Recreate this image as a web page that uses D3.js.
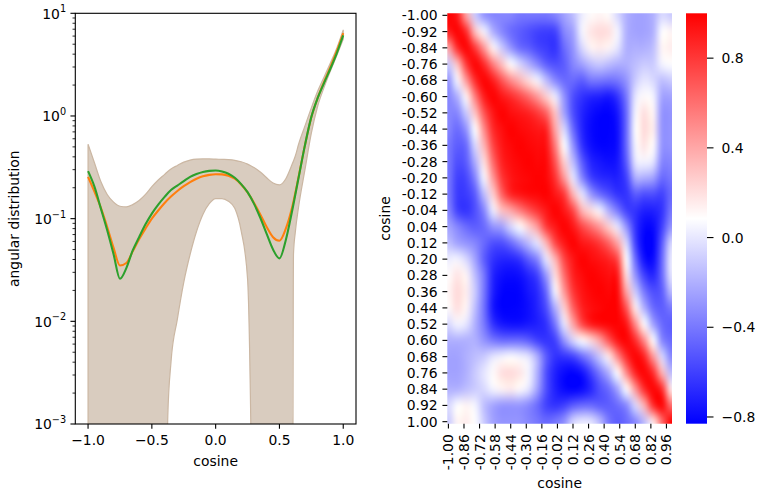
<!DOCTYPE html>
<html>
<head>
<meta charset="utf-8">
<script src="https://cdn.jsdelivr.net/npm/d3@7"></script>
<style>
  html, body { margin: 0; padding: 0; background: #fff; }
  svg { display: block; font-family: "DejaVu Sans", sans-serif; }
</style>
</head>
<body>
<svg id="fig" width="760" height="492"></svg>
<script>
// ---------- angular distribution (left panel) ----------
const cosine = [-1.00, -0.95, -0.90, -0.85, -0.80, -0.75, -0.70, -0.65, -0.60, -0.55,
                -0.50, -0.45, -0.40, -0.35, -0.30, -0.25, -0.20, -0.15, -0.10, -0.05,
                 0.00,  0.05,  0.10,  0.15,  0.20,  0.25,  0.30,  0.35,  0.40,  0.45,
                 0.50,  0.55,  0.60,  0.65,  0.70,  0.75,  0.80,  0.85,  0.90,  0.95, 1.00];

// orange fit
const fitOrange = [0.255, 0.183, 0.128, 0.083, 0.052, 0.035, 0.037, 0.048, 0.063, 0.080,
                   0.100, 0.120, 0.142, 0.164, 0.186, 0.207, 0.227, 0.245, 0.259, 0.267,
                   0.271, 0.270, 0.262, 0.245, 0.215, 0.180, 0.143, 0.110, 0.083, 0.066,
                   0.061, 0.080, 0.130, 0.255, 0.520, 0.970, 1.50, 2.15, 3.00, 4.30, 6.40];

// green fit
const fitGreen = [0.290, 0.205, 0.126, 0.077, 0.045, 0.026, 0.033, 0.049, 0.066, 0.088,
                  0.112, 0.137, 0.163, 0.190, 0.210, 0.232, 0.255, 0.272, 0.285, 0.292,
                  0.294, 0.288, 0.274, 0.250, 0.217, 0.181, 0.140, 0.102, 0.071, 0.050,
                  0.041, 0.062, 0.120, 0.250, 0.520, 0.980, 1.50, 2.10, 2.90, 4.10, 6.10];

// uncertainty band; a lower bound of 0 is non-positive and falls below the log axis
const bandCosine = [-1.00, -0.95, -0.90, -0.85, -0.80, -0.75, -0.70, -0.65, -0.60, -0.55,
                    -0.50, -0.45, -0.40, -0.375, -0.35, -0.30, -0.25, -0.20, -0.15, -0.10,
                    -0.05, 0.00, 0.05, 0.10, 0.15, 0.20, 0.25, 0.275, 0.30, 0.35,
                     0.40, 0.45, 0.50, 0.55, 0.60, 0.61, 0.625, 0.65, 0.70, 0.75,
                     0.80, 0.85, 0.90, 0.95, 1.00];
const bandUpper = [0.53, 0.35, 0.23, 0.172, 0.145, 0.132, 0.130, 0.137, 0.150, 0.172,
                   0.205, 0.238, 0.270, 0.288, 0.305, 0.330, 0.355, 0.372, 0.380, 0.382,
                   0.382, 0.380, 0.378, 0.376, 0.370, 0.358, 0.340, 0.328, 0.315, 0.285,
                   0.250, 0.222, 0.213, 0.245, 0.340, 0.365, 0.410, 0.530, 0.800, 1.20,
                   1.75, 2.40, 3.30, 4.60, 6.90];
const bandLower = [0, 0, 0, 0, 0, 0, 0, 0, 0, 0,
                   0, 0, 0, 0.0012, 0.004, 0.0105, 0.024, 0.045, 0.075, 0.110,
                   0.140, 0.157, 0.157, 0.148, 0.126, 0.076, 0.026, 0.0011, 0, 0,
                   0, 0, 0, 0, 0, 0.045, 0.075, 0.130, 0.300, 0.680,
                   1.25, 1.90, 2.75, 3.90, 5.60];

const xTicks = [-1.0, -0.5, 0.0, 0.5, 1.0];
const xTickLabels = ["\u22121.0", "\u22120.5", "0.0", "0.5", "1.0"];
const yTicks = [1e-3, 1e-2, 1e-1, 1e0, 1e1];
const yTickExponents = ["\u22123", "\u22122", "\u22121", "0", "1"];

// ---------- correlation matrix (right panel) ----------
const gridCosine = [-1.00, -0.92, -0.84, -0.76, -0.68, -0.60, -0.52, -0.44, -0.36, -0.28,
                    -0.20, -0.12, -0.04, 0.04, 0.12, 0.20, 0.28, 0.36, 0.44, 0.52,
                     0.60, 0.68, 0.76, 0.84, 0.92, 1.00];
const corr = [
  [1.00, 0.90, 0.40, -0.10, -0.30, -0.35, -0.35, -0.35, -0.40, -0.40, -0.40, -0.40, -0.35, -0.25, -0.15, 0.02, 0.10, 0.12, 0.10, -0.05, -0.20, -0.25, -0.25, -0.20, -0.05, -0.10],
  [0.90, 1.00, 0.85, 0.30, 0.05, -0.20, -0.35, -0.45, -0.50, -0.55, -0.60, -0.62, -0.60, -0.35, -0.25, 0.05, 0.18, 0.22, 0.20, 0.05, -0.20, -0.25, -0.25, -0.20, 0.08, 0.12],
  [0.40, 0.85, 1.00, 0.80, 0.45, 0.12, -0.10, -0.30, -0.45, -0.50, -0.58, -0.62, -0.65, -0.45, -0.30, -0.05, 0.12, 0.15, 0.12, 0.00, -0.20, -0.20, -0.20, -0.15, 0.12, 0.15],
  [-0.10, 0.30, 0.80, 1.00, 0.85, 0.55, 0.30, 0.08, -0.05, -0.20, -0.35, -0.50, -0.55, -0.50, -0.35, -0.25, -0.15, -0.10, -0.15, -0.20, -0.20, -0.15, -0.10, -0.10, 0.05, 0.08],
  [-0.30, 0.05, 0.45, 0.85, 1.00, 0.90, 0.70, 0.50, 0.35, 0.20, 0.05, -0.15, -0.35, -0.45, -0.45, -0.50, -0.40, -0.40, -0.42, -0.40, -0.30, -0.10, 0.00, -0.05, -0.15, -0.10],
  [-0.35, -0.20, 0.12, 0.55, 0.90, 1.00, 0.92, 0.85, 0.75, 0.62, 0.45, 0.25, 0.02, -0.30, -0.55, -0.65, -0.70, -0.72, -0.75, -0.65, -0.40, 0.00, 0.10, 0.05, -0.25, -0.25],
  [-0.35, -0.35, -0.10, 0.30, 0.70, 0.92, 1.00, 0.95, 0.92, 0.88, 0.80, 0.65, 0.30, -0.25, -0.55, -0.70, -0.78, -0.82, -0.83, -0.75, -0.45, 0.05, 0.20, 0.12, -0.30, -0.30],
  [-0.35, -0.45, -0.30, 0.08, 0.50, 0.85, 0.95, 1.00, 0.97, 0.95, 0.92, 0.88, 0.40, -0.05, -0.45, -0.70, -0.80, -0.83, -0.83, -0.78, -0.45, 0.08, 0.22, 0.15, -0.30, -0.30],
  [-0.40, -0.50, -0.45, -0.05, 0.35, 0.75, 0.92, 0.97, 1.00, 0.98, 0.96, 0.94, 0.55, 0.08, -0.30, -0.65, -0.78, -0.82, -0.82, -0.78, -0.45, 0.05, 0.18, 0.10, -0.30, -0.30],
  [-0.40, -0.55, -0.50, -0.20, 0.20, 0.62, 0.88, 0.95, 0.98, 1.00, 0.98, 0.97, 0.70, 0.25, -0.15, -0.50, -0.70, -0.75, -0.78, -0.75, -0.50, 0.00, 0.05, 0.00, -0.35, -0.35],
  [-0.40, -0.60, -0.58, -0.35, 0.05, 0.45, 0.80, 0.92, 0.96, 0.98, 1.00, 0.98, 0.82, 0.45, 0.00, -0.35, -0.60, -0.68, -0.70, -0.72, -0.60, -0.20, -0.20, -0.25, -0.45, -0.40],
  [-0.40, -0.62, -0.62, -0.50, -0.15, 0.25, 0.65, 0.88, 0.94, 0.97, 0.98, 1.00, 0.92, 0.80, 0.35, 0.00, -0.28, -0.45, -0.55, -0.65, -0.65, -0.50, -0.55, -0.55, -0.60, -0.45],
  [-0.35, -0.60, -0.65, -0.55, -0.35, 0.02, 0.30, 0.40, 0.55, 0.70, 0.82, 0.92, 1.00, 0.92, 0.75, 0.35, 0.20, 0.05, -0.20, -0.40, -0.60, -0.65, -0.72, -0.72, -0.65, -0.40],
  [-0.25, -0.35, -0.45, -0.50, -0.45, -0.30, -0.25, -0.05, 0.08, 0.25, 0.45, 0.80, 0.92, 1.00, 0.92, 0.75, 0.60, 0.45, 0.25, 0.00, -0.30, -0.65, -0.80, -0.80, -0.60, -0.30],
  [-0.15, -0.25, -0.30, -0.35, -0.45, -0.55, -0.55, -0.45, -0.30, -0.15, 0.00, 0.35, 0.75, 0.92, 1.00, 0.92, 0.88, 0.80, 0.65, 0.40, -0.05, -0.60, -0.83, -0.83, -0.50, -0.05],
  [0.02, 0.05, -0.05, -0.25, -0.50, -0.65, -0.70, -0.70, -0.65, -0.50, -0.35, 0.00, 0.35, 0.75, 0.92, 1.00, 0.96, 0.93, 0.88, 0.75, 0.08, -0.45, -0.78, -0.80, -0.45, 0.02],
  [0.10, 0.18, 0.12, -0.15, -0.40, -0.70, -0.78, -0.80, -0.78, -0.70, -0.60, -0.28, 0.20, 0.60, 0.88, 0.96, 1.00, 0.98, 0.95, 0.92, 0.20, -0.30, -0.60, -0.70, -0.45, 0.00],
  [0.12, 0.22, 0.15, -0.10, -0.40, -0.72, -0.82, -0.83, -0.82, -0.75, -0.68, -0.45, 0.05, 0.45, 0.80, 0.93, 0.98, 1.00, 0.98, 0.97, 0.40, -0.10, -0.40, -0.55, -0.50, -0.15],
  [0.10, 0.20, 0.12, -0.15, -0.42, -0.75, -0.83, -0.83, -0.82, -0.78, -0.70, -0.55, -0.20, 0.25, 0.65, 0.88, 0.95, 0.98, 1.00, 0.99, 0.70, 0.15, -0.20, -0.45, -0.50, -0.40],
  [-0.05, 0.05, 0.00, -0.20, -0.40, -0.65, -0.75, -0.78, -0.78, -0.75, -0.72, -0.65, -0.40, 0.00, 0.40, 0.75, 0.92, 0.97, 0.99, 1.00, 0.93, 0.50, 0.08, -0.25, -0.45, -0.50],
  [-0.20, -0.20, -0.20, -0.20, -0.30, -0.40, -0.45, -0.45, -0.45, -0.50, -0.60, -0.65, -0.60, -0.30, -0.05, 0.08, 0.20, 0.40, 0.70, 0.93, 1.00, 0.85, 0.50, 0.08, -0.35, -0.45],
  [-0.25, -0.25, -0.20, -0.15, -0.10, 0.00, 0.05, 0.08, 0.05, 0.00, -0.20, -0.50, -0.65, -0.65, -0.60, -0.45, -0.30, -0.10, 0.15, 0.50, 0.85, 1.00, 0.88, 0.45, -0.05, -0.35],
  [-0.25, -0.25, -0.20, -0.10, 0.00, 0.10, 0.20, 0.22, 0.18, 0.05, -0.20, -0.55, -0.72, -0.80, -0.83, -0.78, -0.60, -0.40, -0.20, 0.08, 0.50, 0.88, 1.00, 0.85, 0.35, -0.15],
  [-0.20, -0.20, -0.15, -0.10, -0.05, 0.05, 0.12, 0.15, 0.10, 0.00, -0.25, -0.55, -0.72, -0.80, -0.83, -0.80, -0.70, -0.55, -0.45, -0.25, 0.08, 0.45, 0.85, 1.00, 0.85, 0.15],
  [-0.05, 0.08, 0.12, 0.05, -0.15, -0.25, -0.30, -0.30, -0.30, -0.35, -0.45, -0.60, -0.65, -0.60, -0.50, -0.45, -0.45, -0.50, -0.50, -0.45, -0.35, -0.05, 0.35, 0.85, 1.00, 0.60],
  [-0.10, 0.12, 0.15, 0.08, -0.10, -0.25, -0.30, -0.30, -0.30, -0.35, -0.40, -0.45, -0.40, -0.30, -0.05, 0.02, 0.00, -0.15, -0.40, -0.50, -0.45, -0.35, -0.15, 0.15, 0.60, 1.00]
];

const heatYTicks = ["-1.00", "-0.92", "-0.84", "-0.76", "-0.68", "-0.60", "-0.52", "-0.44", "-0.36",
                    "-0.28", "-0.20", "-0.12", "-0.04", "0.04", "0.12", "0.20", "0.28", "0.36",
                    "0.44", "0.52", "0.60", "0.68", "0.76", "0.84", "0.92", "1.00"];
const heatXTicks = ["-1.00", "-0.86", "-0.72", "-0.58", "-0.44", "-0.30", "-0.16", "-0.02",
                    "0.12", "0.26", "0.40", "0.54", "0.68", "0.82", "0.96"];
const cbarTicks = [0.8, 0.4, 0.0, -0.4, -0.8];
const cbarTickLabels = ["0.8", "0.4", "0.0", "\u22120.4", "\u22120.8"];

// ---------- shared styling ----------
const FS = 13.9;          // 10 pt at 100 dpi
const TICK = 4.86;        // major tick length
const MINOR = 2.78;       // minor tick length
const INK = "#000";

const fig = d3.select("#fig");
fig.append("rect").attr("width", 760).attr("height", 492).attr("fill", "#fff");
const defs = fig.append("defs");

// =============== left panel ===============
const P = { left: 75.3, right: 356, top: 13.3, bottom: 424 };
const xs = d3.scaleLinear().domain([-1.1, 1.1]).range([P.left, P.right]);
const ys = d3.scaleLog().domain([1e-3, 1e1]).range([P.bottom, P.top]);
const FLOOR = 1e-6;
const yv = v => ys(v > 0 ? v : FLOOR);

defs.append("clipPath").attr("id", "clipL")
  .append("rect").attr("x", P.left).attr("y", P.top)
  .attr("width", P.right - P.left).attr("height", P.bottom - P.top);

const left = fig.append("g");
const plot = left.append("g").attr("clip-path", "url(#clipL)");

const bandData = bandCosine.map((c, i) => ({ c, lo: bandLower[i], hi: bandUpper[i] }));
plot.append("path")
  .datum(bandData)
  .attr("d", d3.area().x(d => xs(d.c)).y0(d => yv(d.lo)).y1(d => yv(d.hi)).curve(d3.curveMonotoneX))
  .attr("fill", "#d9ccbf")
  .attr("stroke", "#cbb7a3")
  .attr("stroke-width", 1.2);

const lineGen = d3.line().x(d => xs(d.c)).y(d => yv(d.v)).curve(d3.curveMonotoneX);
[[fitOrange, "#ff7f0e"], [fitGreen, "#2ca02c"]].forEach(([vals, col]) => {
  plot.append("path")
    .datum(cosine.map((c, i) => ({ c, v: vals[i] })))
    .attr("d", lineGen)
    .attr("fill", "none")
    .attr("stroke", col)
    .attr("stroke-width", 2.08)
    .attr("stroke-linejoin", "round")
    .attr("stroke-linecap", "butt");
});

// frame
left.append("rect")
  .attr("x", P.left).attr("y", P.top)
  .attr("width", P.right - P.left).attr("height", P.bottom - P.top)
  .attr("fill", "none").attr("stroke", INK).attr("stroke-width", 1.1);

// x ticks
xTicks.forEach((t, i) => {
  const x = xs(t);
  left.append("line").attr("x1", x).attr("x2", x)
    .attr("y1", P.bottom).attr("y2", P.bottom + TICK)
    .attr("stroke", INK).attr("stroke-width", 1.1);
  left.append("text").attr("x", x).attr("y", P.bottom + 21)
    .attr("text-anchor", "middle").attr("font-size", FS).attr("fill", INK)
    .text(xTickLabels[i]);
});

// y ticks: majors with 10^n labels, minors at 2..9
yTicks.forEach((t, i) => {
  const y = ys(t);
  left.append("line").attr("x1", P.left - TICK).attr("x2", P.left)
    .attr("y1", y).attr("y2", y).attr("stroke", INK).attr("stroke-width", 1.1);
  const lab = left.append("text").attr("x", P.left - 9.2).attr("y", y + 5.3)
    .attr("text-anchor", "end").attr("font-size", FS).attr("fill", INK);
  lab.append("tspan").text("10");
  lab.append("tspan").attr("font-size", 9.7).attr("dy", -6.3).text(yTickExponents[i]);
});
const minorVals = [];
for (let k = 0; k < yTicks.length - 1; k++) {
  [2, 3, 4, 5, 6, 7, 8, 9].forEach(m => minorVals.push(m * yTicks[k]));
}
left.selectAll(".minor").data(minorVals).join("line")
  .attr("x1", P.left - MINOR).attr("x2", P.left)
  .attr("y1", d => ys(d)).attr("y2", d => ys(d))
  .attr("stroke", INK).attr("stroke-width", 0.83);

// axis labels
left.append("text").attr("x", (P.left + P.right) / 2).attr("y", 466)
  .attr("text-anchor", "middle").attr("font-size", FS).attr("fill", INK).text("cosine");
left.append("text")
  .attr("transform", `translate(19,${(P.top + P.bottom) / 2}) rotate(-90)`)
  .attr("text-anchor", "middle").attr("font-size", FS).attr("fill", INK)
  .text("angular distribution");

// =============== right panel: heatmap ===============
const H = { left: 447.3, right: 672, top: 13.3, bottom: 423.7 };
const hx = d3.scaleLinear().domain([-1.01, 1.01]).range([H.left, H.right]);
const hy = d3.scaleLinear().domain([-1.01, 1.01]).range([H.top, H.bottom]);
const flat = corr.flat();
const vmin = d3.min(flat), vmax = d3.max(flat);
const color = d3.scaleLinear()
  .domain([vmin, (vmin + vmax) / 2, vmax])
  .range(["#0000ff", "#ffffff", "#ff0000"]);

// raster of the matrix, one pixel per grid value
const n = gridCosine.length;
const small = document.createElement("canvas");
small.width = n; small.height = n;
const sctx = small.getContext("2d");
const img = sctx.createImageData(n, n);
corr.forEach((row, i) => row.forEach((v, j) => {
  const c = d3.rgb(color(v));
  const k = (i * n + j) * 4;
  img.data[k] = c.r; img.data[k + 1] = c.g; img.data[k + 2] = c.b; img.data[k + 3] = 255;
}));
sctx.putImageData(img, 0, 0);

// resample the raster to screen size with high-quality smoothing
const step = gridCosine[1] - gridCosine[0];
const g0 = gridCosine[0] - step / 2, g1 = gridCosine[n - 1] + step / 2;
const imgW = hx(g1) - hx(g0), imgH = hy(g1) - hy(g0);
const SS = 2;
const big = document.createElement("canvas");
big.width = Math.round(imgW * SS); big.height = Math.round(imgH * SS);
const bctx = big.getContext("2d");
bctx.imageSmoothingEnabled = true;
bctx.imageSmoothingQuality = "high";
bctx.drawImage(small, 0, 0, big.width, big.height);

defs.append("clipPath").attr("id", "clipH")
  .append("rect").attr("x", H.left).attr("y", H.top)
  .attr("width", H.right - H.left).attr("height", H.bottom - H.top);

fig.append("g").attr("clip-path", "url(#clipH)")
  .append("image")
  .attr("href", big.toDataURL())
  .attr("x", hx(g0)).attr("y", hy(g0))
  .attr("width", imgW).attr("height", imgH)
  .attr("preserveAspectRatio", "none");

const right = fig.append("g");
heatYTicks.forEach(lab => {
  const y = hy(+lab);
  right.append("line").attr("x1", H.left - TICK).attr("x2", H.left)
    .attr("y1", y).attr("y2", y).attr("stroke", INK).attr("stroke-width", 1.1);
  right.append("text").attr("x", H.left - 9.7).attr("y", y + 5)
    .attr("text-anchor", "end").attr("font-size", FS).attr("fill", INK).text(lab);
});
heatXTicks.forEach(lab => {
  const x = hx(+lab);
  right.append("line").attr("x1", x).attr("x2", x)
    .attr("y1", H.bottom).attr("y2", H.bottom + TICK)
    .attr("stroke", INK).attr("stroke-width", 1.1);
  right.append("text")
    .attr("transform", `translate(${x},${H.bottom + 10.5}) rotate(-90)`)
    .attr("dy", "0.36em")
    .attr("text-anchor", "end").attr("font-size", FS).attr("fill", INK).text(lab);
});
right.append("text").attr("x", (H.left + H.right) / 2).attr("y", 488)
  .attr("text-anchor", "middle").attr("font-size", FS).attr("fill", INK).text("cosine");
right.append("text")
  .attr("transform", `translate(390,${(H.top + H.bottom) / 2}) rotate(-90)`)
  .attr("text-anchor", "middle").attr("font-size", FS).attr("fill", INK).text("cosine");

// =============== colorbar ===============
const C = { left: 686, right: 707, top: 13.3, bottom: 423.7 };
const cy = d3.scaleLinear().domain([vmin, vmax]).range([C.bottom, C.top]);
const grad = defs.append("linearGradient").attr("id", "cbar")
  .attr("x1", 0).attr("y1", 0).attr("x2", 0).attr("y2", 1);
[vmax, (vmin + vmax) / 2, vmin].forEach(v => {
  grad.append("stop")
    .attr("offset", (cy(v) - C.top) / (C.bottom - C.top))
    .attr("stop-color", color(v));
});
fig.append("rect").attr("x", C.left).attr("y", C.top)
  .attr("width", C.right - C.left).attr("height", C.bottom - C.top)
  .attr("fill", "url(#cbar)");
cbarTicks.forEach((t, i) => {
  const y = cy(t);
  fig.append("line").attr("x1", C.right).attr("x2", C.right + 6.5)
    .attr("y1", y).attr("y2", y).attr("stroke", INK).attr("stroke-width", 1.1);
  fig.append("text").attr("x", C.right + 14.5).attr("y", y + 5)
    .attr("font-size", FS).attr("fill", INK).text(cbarTickLabels[i]);
});
</script>
</body>
</html>
